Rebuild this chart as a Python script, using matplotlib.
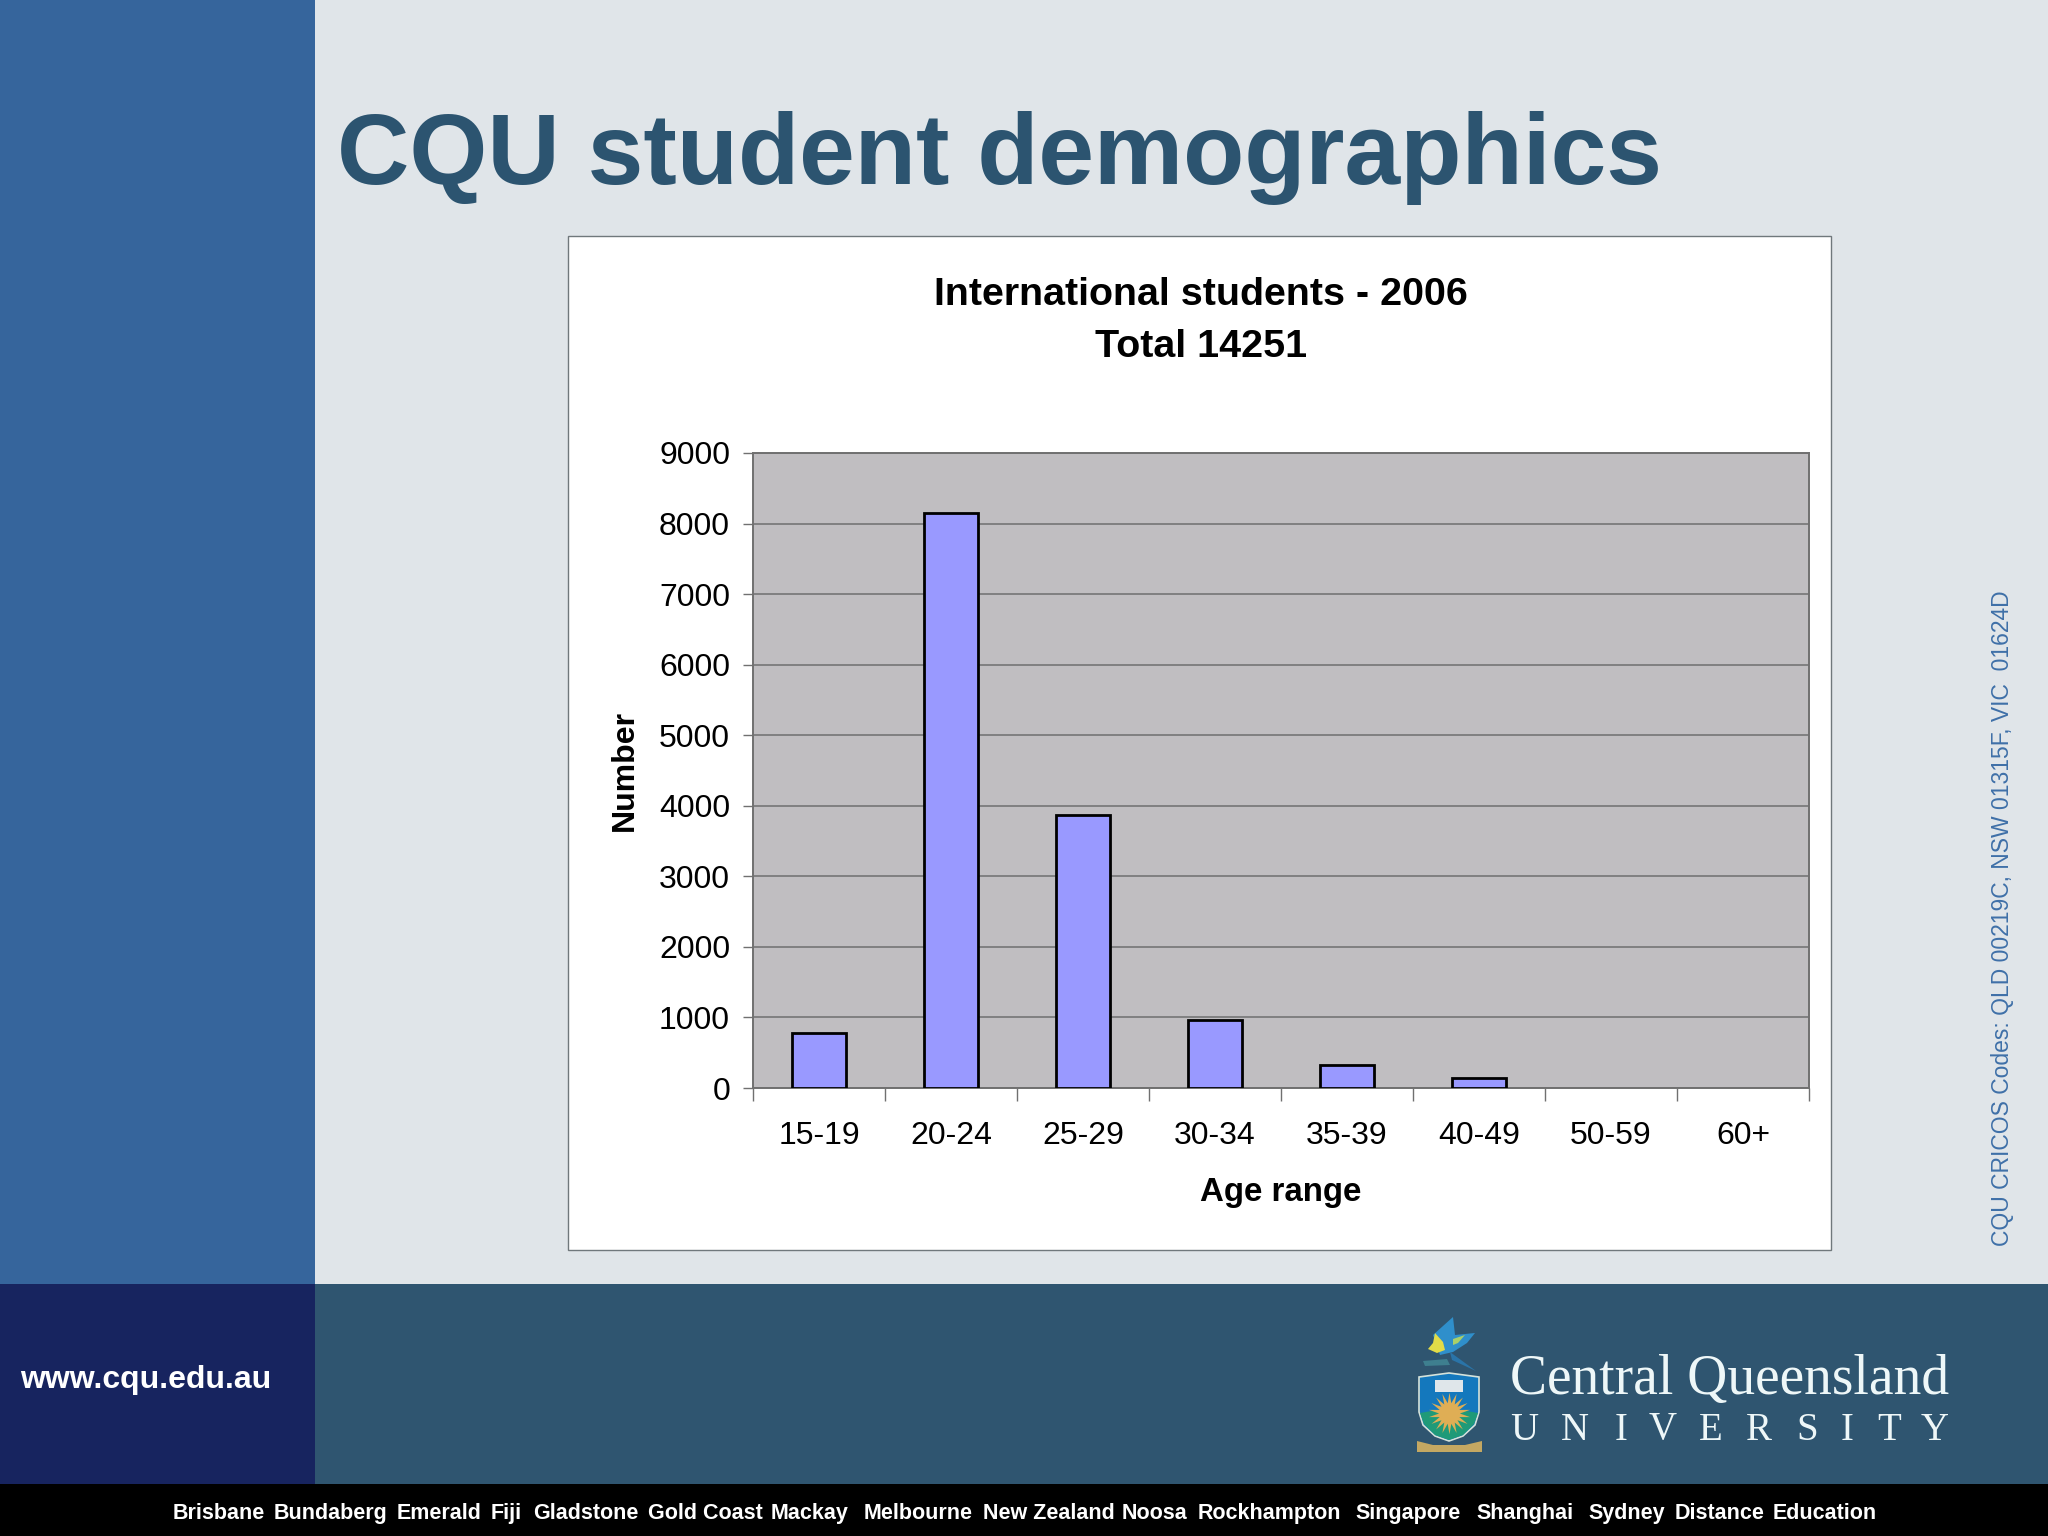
import matplotlib
matplotlib.use("Agg")
import matplotlib.pyplot as plt
from matplotlib.patches import Rectangle, Polygon

# chart data
age_ranges = ["15-19", "20-24", "25-29", "30-34", "35-39", "40-49", "50-59", "60+"]
students = [785, 8156, 3868, 960, 322, 148, 0, 0]
y_ticks = [0, 1000, 2000, 3000, 4000, 5000, 6000, 7000, 8000, 9000]

# footer campus list
campuses = ["Brisbane", "Bundaberg", "Emerald", "Fiji", "Gladstone", "Gold Coast", "Mackay",
            "Melbourne", "New Zealand", "Noosa", "Rockhampton", "Singapore", "Shanghai",
            "Sydney", "Distance", "Education"]
campus_x = [173, 274, 397, 491, 533, 648, 771, 864, 983, 1122, 1198, 1355, 1476, 1588, 1675, 1773]

W, H = 2048, 1536
plt.rcParams["font.family"] = ["Liberation Sans"]

fig = plt.figure(figsize=(W / 100, H / 100), dpi=100)

# ------------------------------------------------------
# slide background, everything in pixel coords
# ------------------------------------------------------
bg = fig.add_axes([0, 0, 1, 1])
bg.set_xlim(0, W)
bg.set_ylim(H, 0)
bg.axis("off")

bg.add_patch(Rectangle((0, 0), W, H, color="#e0e5e9", lw=0))
bg.add_patch(Rectangle((0, 0), 315, 1284, color="#36659c", lw=0))
bg.add_patch(Rectangle((315, 1284), W - 315, 200, color="#2f5570", lw=0))
bg.add_patch(Rectangle((0, 1284), 315, 200, color="#17245f", lw=0))
bg.add_patch(Rectangle((0, 1484), W, 52, color="#000000", lw=0))
bg.add_patch(Rectangle((568, 236), 1263, 1014, facecolor="white", edgecolor="#70787c", lw=1))

bg.text(337, 184, "CQU student demographics", fontsize=72.2, fontweight="bold",
        color="#2c5470", va="baseline", ha="left")
bg.text(1201, 295, "International students - 2006", fontsize=28.4, fontweight="bold",
        color="black", ha="center", va="center")
bg.text(1201, 347, "Total 14251", fontsize=28.4, fontweight="bold",
        color="black", ha="center", va="center")
bg.text(146, 1380, "www.cqu.edu.au", fontsize=23, fontweight="bold", color="white",
        ha="center", va="center")
bg.text(2002, 918, "CQU CRICOS Codes: QLD 00219C, NSW 01315F, VIC  01624D", fontsize=16.5,
        color="#3f70a8", rotation=90, ha="center", va="center")

for name, x in zip(campuses, campus_x):
    bg.text(x, 1519, name, fontsize=15.5, fontweight="bold", color="white", ha="left", va="baseline")

# logo text
bg.text(1510, 1380, "Central Queensland", fontsize=40, family="Liberation Serif",
        color="#eef7f8", ha="left", va="center")
for ch, x in zip("UNIVERSITY", [1524, 1575, 1621, 1663, 1711, 1759, 1807, 1847, 1889, 1935]):
    bg.text(x, 1430, ch, fontsize=28, family="Liberation Serif", color="#eef7f8",
            ha="center", va="center")

# crest, drawn roughly
bg.add_patch(Polygon([(1419, 1377), (1449, 1373), (1479, 1377), (1479, 1412), (1475, 1425), (1463, 1436),
                      (1449, 1441), (1435, 1436), (1423, 1425), (1419, 1412)],
                     closed=True, facecolor="#1478bd", edgecolor="#d5e2da", lw=1.2))
bg.add_patch(Polygon([(1420, 1413), (1449, 1408), (1478, 1413), (1474, 1424), (1463, 1435),
                      (1449, 1440), (1435, 1435), (1424, 1424)],
                     closed=True, facecolor="#1f9a78", lw=0))
bg.plot([1449], [1413], marker=(18, 1, 0), ms=30, color="#dfae55", mew=0)
bg.add_patch(Rectangle((1435, 1380), 28, 12, facecolor="#dfe6ea", lw=0))
bg.add_patch(Polygon([(1417, 1441), (1433, 1445), (1465, 1445), (1482, 1441), (1482, 1452), (1417, 1452)],
                     closed=True, facecolor="#c4a862", lw=0))
# bird
bg.add_patch(Polygon([(1453, 1317), (1455, 1335), (1475, 1333), (1467, 1343), (1453, 1352), (1440, 1355),
                      (1433, 1335)], closed=True, facecolor="#2f8fcb", lw=0))
bg.add_patch(Polygon([(1435, 1333), (1443, 1342), (1445, 1350), (1437, 1353), (1428, 1349), (1433, 1343)],
                     closed=True, facecolor="#e2dc48", lw=0))
bg.add_patch(Polygon([(1453, 1339), (1465, 1335), (1458, 1343), (1453, 1345)], closed=True,
                     facecolor="#a9cf6a", lw=0))
bg.add_patch(Polygon([(1423, 1361), (1447, 1359), (1450, 1365), (1425, 1366)], closed=True,
                     facecolor="#3e7f8f", lw=0))
bg.add_patch(Polygon([(1450, 1352), (1476, 1371), (1452, 1360)], closed=True, facecolor="#2a74a8", lw=0))

# ------------------------------------------------------
# the chart
# ------------------------------------------------------
left, right, top, bottom = 753, 1809, 453, 1088
ax = fig.add_axes([left / W, 1 - bottom / H, (right - left) / W, (bottom - top) / H])
ax.set_facecolor("#c0bec1")
x = list(range(len(age_ranges)))
# zero counts leave no visible bar in the original
bar_x = [i for i, v in zip(x, students) if v > 0]
bar_v = [v for v in students if v > 0]
ax.bar(bar_x, bar_v, width=0.41, color="#9999ff", edgecolor="black", linewidth=2, zorder=3)
ax.set_xlim(-0.5, len(age_ranges) - 0.5)
ax.set_ylim(0, 9000)

ax.set_yticks(y_ticks)
ax.set_yticklabels([str(v) for v in y_ticks], fontsize=23, color="black")
ax.yaxis.grid(True, color="#6f6f6f", lw=1.1, zorder=1)
ax.set_axisbelow(True)
ax.tick_params(axis="y", length=7, width=1, color="#707070", pad=9.5)

ax.set_xticks([i - 0.5 for i in range(len(age_ranges) + 1)])
ax.set_xticklabels([])
ax.set_xticks(x, minor=True)
ax.set_xticklabels(age_ranges, minor=True, fontsize=23, color="black")
ax.tick_params(axis="x", which="major", length=9, width=1, color="#707070")
ax.tick_params(axis="x", which="minor", length=0, pad=24)

for side in ax.spines.values():
    side.set_color("#707070")
    side.set_linewidth(1.4)

ax.set_xlabel("Age range", fontsize=23.8, fontweight="bold", labelpad=18.5)
ax.set_ylabel("Number", fontsize=23, fontweight="bold", labelpad=14)

fig.savefig("out.png", dpi=100)
